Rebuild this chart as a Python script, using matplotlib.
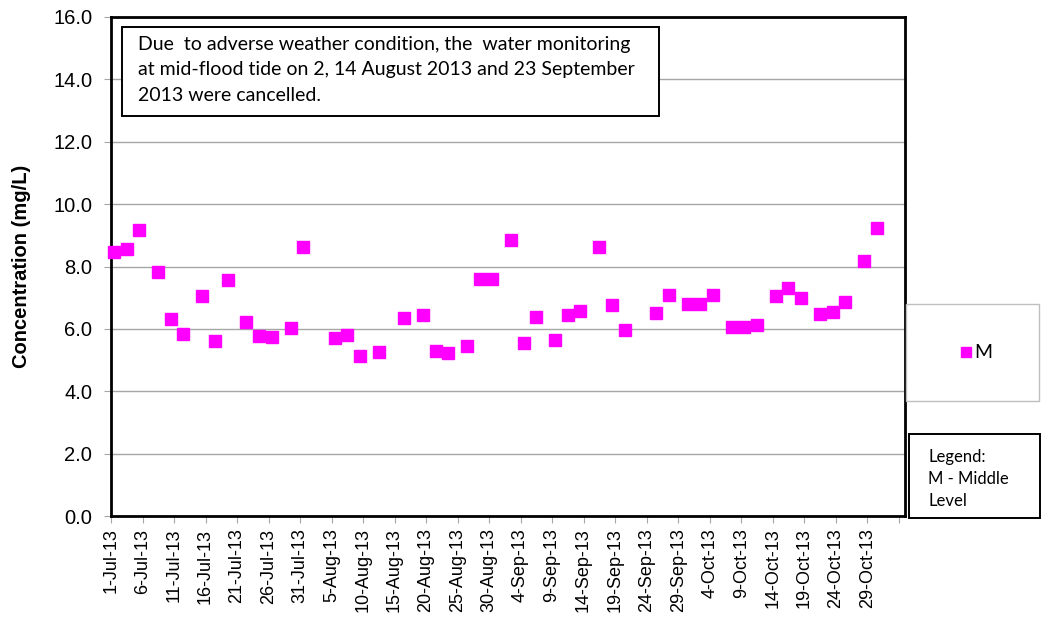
import matplotlib
matplotlib.use("Agg")
import matplotlib.pyplot as plt
from matplotlib.patches import Rectangle
from matplotlib.lines import Line2D
import numpy as np
import datetime as dt

# ---- data ----
dates = ["2013-07-01", "2013-07-03", "2013-07-05", "2013-07-08", "2013-07-10", "2013-07-12",
         "2013-07-15", "2013-07-17", "2013-07-19", "2013-07-22", "2013-07-24", "2013-07-26",
         "2013-07-29", "2013-07-31", "2013-08-05", "2013-08-07", "2013-08-09", "2013-08-12",
         "2013-08-16", "2013-08-19", "2013-08-21", "2013-08-23", "2013-08-26", "2013-08-28",
         "2013-08-30", "2013-09-02", "2013-09-04", "2013-09-06", "2013-09-09", "2013-09-11",
         "2013-09-13", "2013-09-16", "2013-09-18", "2013-09-20", "2013-09-25", "2013-09-27",
         "2013-09-30", "2013-10-02", "2013-10-04", "2013-10-07", "2013-10-09", "2013-10-11",
         "2013-10-14", "2013-10-16", "2013-10-18", "2013-10-21", "2013-10-23", "2013-10-25",
         "2013-10-28", "2013-10-30"]
middle = [8.45, 8.57, 9.18, 7.81, 6.31, 5.85,
          7.04, 5.60, 7.56, 6.22, 5.76, 5.75,
          6.04, 8.63, 5.72, 5.80, 5.14, 5.27,
          6.34, 6.45, 5.28, 5.24, 5.46, 7.61,
          7.61, 8.84, 5.56, 6.37, 5.64, 6.43,
          6.58, 8.62, 6.77, 5.95, 6.50, 7.09,
          6.79, 6.79, 7.08, 6.07, 6.05, 6.13,
          7.05, 7.32, 7.00, 6.48, 6.54, 6.85,
          8.18, 9.24]
series_label = "M"
y_label = "Concentration (mg/L)"
note = ("Due  to adverse weather condition, the  water monitoring\n"
        "at mid-flood tide on 2, 14 August 2013 and 23 September\n"
        "2013 were cancelled.")
legend_note = "Legend:\nM - Middle\nLevel"

W, H = 1045, 631
fig = plt.figure(figsize=(W / 100, H / 100), dpi=100)
L, R, T, B = 111, 905, 17, 516
ax = fig.add_axes([L / W, 1 - B / H, (R - L) / W, (B - T) / H])

# points placed mid-day (Excel "between tick marks" date axis)
x = [dt.datetime.strptime(d, "%Y-%m-%d") + dt.timedelta(hours=12) for d in dates]
ax.plot(x, middle, linestyle="none", marker="s", markersize=9.3,
        color="#FF00FF", markeredgecolor="#FF00FF", zorder=3, clip_on=False)

ax.set_xlim(dt.datetime(2013, 7, 1), dt.datetime(2013, 11, 4))
ax.set_ylim(0, 16)
yt = np.arange(0, 16.01, 2)
ax.set_yticks(yt)
ax.set_yticklabels([f"{v:.1f}" for v in yt], fontsize=14.5, family="Liberation Sans")
ax.yaxis.grid(True, color="#A6A6A6", linewidth=1)
ax.set_axisbelow(True)

ticks = [dt.datetime(2013, 7, 1) + dt.timedelta(days=5 * i) for i in range(26)]
ax.set_xticks(ticks)
labels = [f"{t.day}-{t.strftime('%b')}-13" for t in ticks]
labels[-1] = ""
ax.set_xticklabels(labels, rotation=90, fontsize=13, family="Liberation Sans")
ax.tick_params(axis="x", direction="out", length=5, color="#A6A6A6", pad=4)
ax.tick_params(axis="y", direction="out", length=5, color="#A6A6A6", pad=8.5)

for s in ax.spines.values():
    s.set_color("black")
    s.set_linewidth(2)

ax.set_ylabel(y_label, fontsize=14.5, fontweight="bold", family="Liberation Sans")
ax.yaxis.set_label_coords((31 - L) / (R - L), 0.5)

def px_rect(x0, y0, x1, y1, ec, lw):
    r = Rectangle((x0 / W, 1 - y1 / H), (x1 - x0) / W, (y1 - y0) / H,
                  transform=fig.transFigure, facecolor="white", edgecolor=ec,
                  linewidth=lw, zorder=5)
    fig.patches.append(r)

# note box
px_rect(122, 27, 659, 116, "black", 1.4)
fig.text(138 / W, 1 - 36 / H, note, fontsize=14, family="Lato",
         va="top", ha="left", linespacing=1.6, zorder=6)

# legend box
px_rect(906, 304, 1039, 401, "#BFBFBF", 1.0)
fig.lines.append(Line2D([966 / W], [1 - 352 / H], transform=fig.transFigure,
                        marker="s", markersize=7, color="#FF00FF", linestyle="none", zorder=6))
fig.text(974 / W, 1 - 352 / H, series_label, fontsize=14, family="Lato",
         va="center", ha="left", zorder=6)

px_rect(909, 434, 1040, 518, "black", 1.4)
fig.text(928 / W, 1 - 449 / H, legend_note, fontsize=12, family="Lato",
         va="top", ha="left", linespacing=1.45, zorder=6)

fig.savefig("out.png", dpi=100)
